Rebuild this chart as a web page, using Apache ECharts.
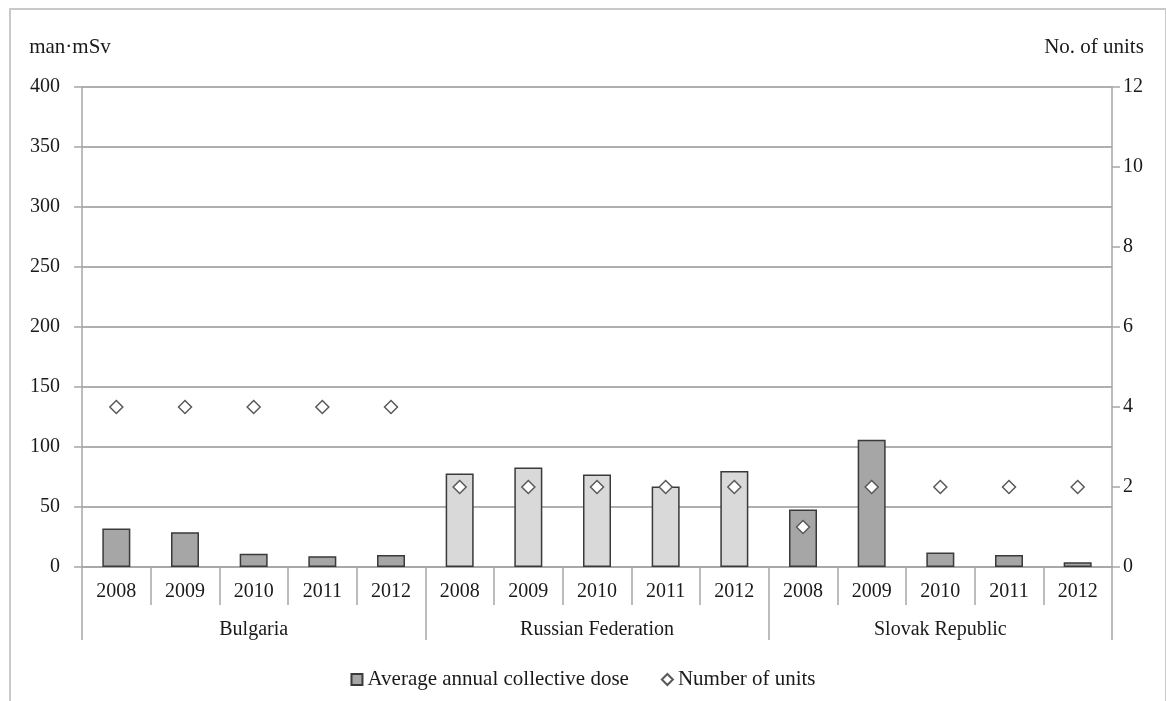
<!DOCTYPE html>
<html><head><meta charset="utf-8">
<script src="https://cdn.jsdelivr.net/npm/echarts@6/dist/echarts.min.js"></script>
<style>
html,body{margin:0;padding:0;background:#fff;}
#chart{width:1166px;height:701px;}
#frame{position:absolute;left:9px;top:8px;width:1154px;height:700px;border-left:2px solid #c9c9c9;border-top:2px solid #c9c9c9;border-right:2px solid #c9c9c9;pointer-events:none;}
</style></head>
<body>
<div id="chart"></div>
<div id="frame"></div>
<script>
const countries = ['Bulgaria', 'Russian Federation', 'Slovak Republic'];
const years = ['2008', '2009', '2010', '2011', '2012'];
const bulgariaDose = [32, 29, 11, 9, 10];
const russiaDose = [78, 83, 77, 67, 80];
const slovakDose = [48, 106, 12, 10, 4];
const bulgariaUnits = [4, 4, 4, 4, 4];
const russiaUnits = [2, 2, 2, 2, 2];
const slovakUnits = [1, 2, 2, 2, 2];
const leftTicks = [0, 400, 50];
const rightTicks = [0, 12, 2];

const darkFill = '#a6a6a6', lightFill = '#d9d9d9';
const groupFill = [darkFill, lightFill, darkFill];
const doseGroups = [bulgariaDose, russiaDose, slovakDose];
const unitGroups = [bulgariaUnits, russiaUnits, slovakUnits];

const categories = [];
const doseData = [];
const unitData = [];
doseGroups.forEach((g, gi) => {
  g.forEach((v, i) => {
    categories.push(years[i]);
    doseData.push({ value: v, itemStyle: { color: groupFill[gi] } });
    unitData.push(unitGroups[gi][i]);
  });
});

const font = 'Liberation Serif';
const txt = '#1a1a1a';
const axisGrey = '#a6a6a6';

const chart = echarts.init(document.getElementById('chart'), null, { renderer: 'canvas' });
chart.setOption({
  animation: false,
  textStyle: { fontFamily: font, color: txt },
  grid: { left: 82, right: 54, top: 87, bottom: 134 },
  legend: {
    bottom: 6, left: 'center', itemGap: 32, itemWidth: 11, itemHeight: 11,
    textStyle: { fontFamily: font, fontSize: 21, color: txt },
    data: [
      { name: 'Average annual collective dose', icon: 'rect' },
      { name: 'Number of units', icon: 'diamond' }
    ]
  },
  xAxis: [
    {
      type: 'category', data: categories, position: 'bottom',
      axisLine: { show: true, lineStyle: { color: axisGrey, width: 1.5 } },
      axisTick: { show: true, interval: 0, length: 38, lineStyle: { color: axisGrey, width: 1.5 } },
      axisLabel: { interval: 0, margin: 15, fontSize: 20, fontFamily: font, color: txt },
      splitLine: { show: false }
    },
    {
      type: 'category', data: countries, position: 'bottom',
      axisLine: { show: false },
      axisTick: { show: true, interval: 0, length: 73, lineStyle: { color: axisGrey, width: 1.5 } },
      axisLabel: { interval: 0, margin: 53, fontSize: 20, fontFamily: font, color: txt },
      splitLine: { show: false }
    }
  ],
  yAxis: [
    {
      type: 'value', min: leftTicks[0], max: leftTicks[1], interval: leftTicks[2], position: 'left',
      name: 'man·mSv', nameLocation: 'end', nameGap: 29,
      nameTextStyle: { fontFamily: font, fontSize: 21, color: txt, align: 'center', padding: [0, 24, 0, 0] },
      axisLine: { show: true, lineStyle: { color: axisGrey, width: 1.5 } },
      axisTick: { show: true, length: 8, lineStyle: { color: axisGrey, width: 1.5 } },
      axisLabel: { margin: 22, fontSize: 20, fontFamily: font, color: txt },
      splitLine: { show: true, lineStyle: { color: '#959595', width: 1.5 } }
    },
    {
      type: 'value', min: rightTicks[0], max: rightTicks[1], interval: rightTicks[2], position: 'right',
      name: 'No. of units', nameLocation: 'end', nameGap: 29,
      nameTextStyle: { fontFamily: font, fontSize: 21, color: txt, align: 'center', padding: [0, 36, 0, 0] },
      axisLine: { show: true, lineStyle: { color: axisGrey, width: 1.5 } },
      axisTick: { show: true, length: 8, lineStyle: { color: axisGrey, width: 1.5 } },
      axisLabel: { margin: 11, fontSize: 20, fontFamily: font, color: txt },
      splitLine: { show: false }
    }
  ],
  series: [
    {
      name: 'Average annual collective dose', type: 'bar', xAxisIndex: 0, yAxisIndex: 0,
      barWidth: 28, data: doseData,
      itemStyle: { color: darkFill, borderColor: '#3a3a3a', borderWidth: 1.5 }
    },
    {
      name: 'Number of units', type: 'scatter', xAxisIndex: 0, yAxisIndex: 1,
      symbol: 'diamond', symbolSize: [13, 13], data: unitData,
      itemStyle: { color: '#ffffff', borderColor: '#595959', borderWidth: 1.5, opacity: 1 }
    }
  ]
});
</script>
</body></html>
